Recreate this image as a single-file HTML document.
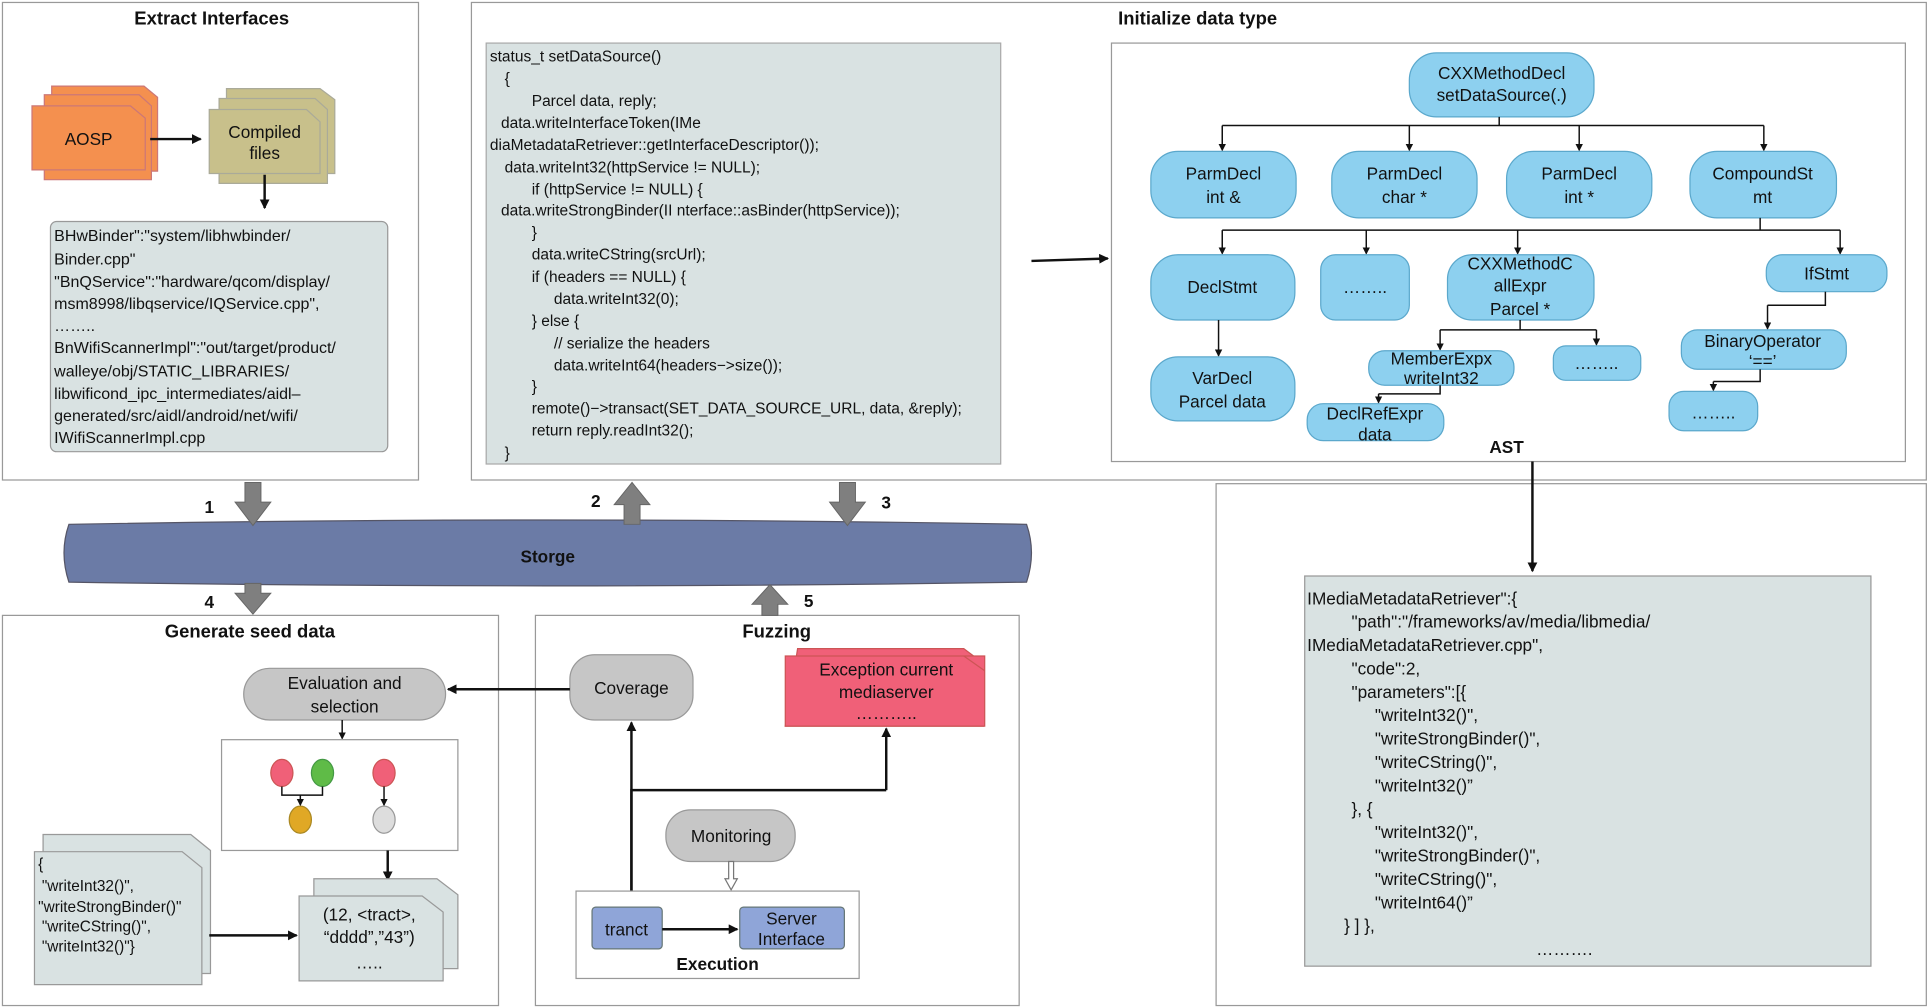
<!DOCTYPE html>
<html><head><meta charset="utf-8"><style>
html,body{margin:0;padding:0;background:#fff;}
svg{display:block;}
text{font-family:"Liberation Sans",Arial,sans-serif;fill:#111;}
.t{font-weight:bold;font-size:15px;text-anchor:middle;}
.c{font-size:12.6px;}
.n{font-size:14px;text-anchor:middle;}
.box{fill:#fff;stroke:#999;stroke-width:1;}
.ast{fill:#8dd0ef;stroke:#5ba8cc;stroke-width:1;}
.ln{stroke:#111;stroke-width:1.2;fill:none;}
.lb{stroke:#111;stroke-width:2;fill:none;}
</style></head><body>
<svg width="1930" height="1008" viewBox="0 0 1568 819" preserveAspectRatio="none" xmlns="http://www.w3.org/2000/svg">
<defs>
<marker id="a" markerWidth="8" markerHeight="8" refX="7" refY="4" orient="auto" markerUnits="userSpaceOnUse"><path d="M0,0 L8,4 L0,8 z" fill="#111"/></marker>
<marker id="as" markerWidth="6" markerHeight="6" refX="5" refY="3" orient="auto" markerUnits="userSpaceOnUse"><path d="M0,0 L6,3 L0,6 z" fill="#111"/></marker>
</defs>

<rect class="box" x="2" y="2" width="338" height="388"/>
<rect class="box" x="383" y="2" width="1182" height="388"/>
<rect class="box" x="988" y="393" width="577" height="424"/>
<rect class="box" x="2" y="500" width="403" height="317"/>
<rect class="box" x="435" y="500" width="393" height="317"/>

<text class="t" x="172" y="20">Extract Interfaces</text>
<text class="t" x="973" y="20">Initialize data type</text>
<text class="t" x="203" y="518">Generate seed data</text>
<text class="t" x="631" y="518">Fuzzing</text>

<g fill="#f4904f" stroke="#c77">
<path d="M42,70 h75 l11,9 v60 h-86 z"/>
<path d="M36,77 h77 l10,9 v60 h-87 z"/>
<path d="M26,86 h80 l12,10 v42 h-92 z"/>
</g>
<text class="n" x="72" y="118">AOSP</text>
<g fill="#c8c08b" stroke="#aa9">
<path d="M184,72 h76 l12,9 v60 h-88 z"/>
<path d="M178,80 h78 l10,9 v60 h-88 z"/>
<path d="M170,89 h79 l11,10 v42 h-90 z"/>
</g>
<text class="n" x="215" y="112">Compiled</text>
<text class="n" x="215" y="129">files</text>
<line class="lb" x1="122" y1="113" x2="163" y2="113" marker-end="url(#a)"/>
<line class="lb" x1="215" y1="142" x2="215" y2="169" marker-end="url(#a)"/>

<rect x="41" y="180" width="274" height="187" rx="5" fill="#d9e2e2" stroke="#999"/>
<g>
<text x="44" y="196" style="font-size:13px">BHwBinder":"system/libhwbinder/</text>
<text x="44" y="215" style="font-size:13px">Binder.cpp"</text>
<text x="44" y="233" style="font-size:13px">"BnQService":"hardware/qcom/display/</text>
<text x="44" y="251" style="font-size:13px">msm8998/libqservice/IQService.cpp",</text>
<text x="44" y="269" style="font-size:13px">……..</text>
<text x="44" y="287" style="font-size:13px">BnWifiScannerImpl":"out/target/product/</text>
<text x="44" y="306" style="font-size:13px">walleye/obj/STATIC_LIBRARIES/</text>
<text x="44" y="324" style="font-size:13px">libwificond_ipc_intermediates/aidl–</text>
<text x="44" y="342" style="font-size:13px">generated/src/aidl/android/net/wifi/</text>
<text x="44" y="360" style="font-size:13px">IWifiScannerImpl.cpp</text>
</g>

<rect x="395" y="35" width="418" height="342" fill="#d9e2e2" stroke="#aaa"/>
<g>
<text class="c" x="398" y="50">status_t setDataSource()</text>
<text class="c" x="410" y="68">{</text>
<text class="c" x="432" y="86">Parcel data, reply;</text>
<text class="c" x="407" y="104">data.writeInterfaceToken(IMe</text>
<text class="c" x="398" y="122">diaMetadataRetriever::getInterfaceDescriptor());</text>
<text class="c" x="410" y="140">data.writeInt32(httpService != NULL);</text>
<text class="c" x="432" y="158">if (httpService != NULL) {</text>
<text class="c" x="407" y="175">data.writeStrongBinder(II nterface::asBinder(httpService));</text>
<text class="c" x="432" y="193">}</text>
<text class="c" x="432" y="211">data.writeCString(srcUrl);</text>
<text class="c" x="432" y="229">if (headers == NULL) {</text>
<text class="c" x="450" y="247">data.writeInt32(0);</text>
<text class="c" x="432" y="265">} else {</text>
<text class="c" x="450" y="283">// serialize the headers</text>
<text class="c" x="450" y="301">data.writeInt64(headers−&gt;size());</text>
<text class="c" x="432" y="318">}</text>
<text class="c" x="432" y="336">remote()−&gt;transact(SET_DATA_SOURCE_URL, data, &amp;reply);</text>
<text class="c" x="432" y="354">return reply.readInt32();</text>
<text class="c" x="410" y="372">}</text>
</g>
<line class="lb" x1="838" y1="212" x2="900" y2="210" marker-end="url(#a)"/>

<rect class="box" x="903" y="35" width="645" height="340"/>
<text class="t" x="1224" y="368" style="font-size:14px">AST</text>
<rect class="ast" x="1145" y="43" width="150" height="52" rx="22"/>
<text class="n" x="1220" y="64">CXXMethodDecl</text><text class="n" x="1220" y="82">setDataSource(.)</text>
<path class="ln" d="M1218,95 V102 M993,102 H1433"/>
<line class="ln" x1="993" y1="102" x2="993" y2="122" marker-end="url(#as)"/>
<line class="ln" x1="1145" y1="102" x2="1145" y2="122" marker-end="url(#as)"/>
<line class="ln" x1="1283" y1="102" x2="1283" y2="122" marker-end="url(#as)"/>
<line class="ln" x1="1433" y1="102" x2="1433" y2="122" marker-end="url(#as)"/>
<rect class="ast" x="935" y="123" width="118" height="54" rx="22"/>
<text class="n" x="994" y="146">ParmDecl</text><text class="n" x="994" y="165">int &amp;</text>
<rect class="ast" x="1082" y="123" width="118" height="54" rx="22"/>
<text class="n" x="1141" y="146">ParmDecl</text><text class="n" x="1141" y="165">char *</text>
<rect class="ast" x="1224" y="123" width="118" height="54" rx="22"/>
<text class="n" x="1283" y="146">ParmDecl</text><text class="n" x="1283" y="165">int *</text>
<rect class="ast" x="1373" y="123" width="119" height="54" rx="22"/>
<text class="n" x="1432" y="146">CompoundSt</text><text class="n" x="1432" y="165">mt</text>
<path class="ln" d="M1430,177 V187 M993,187 H1495"/>
<line class="ln" x1="993" y1="187" x2="993" y2="206" marker-end="url(#as)"/>
<line class="ln" x1="1110" y1="187" x2="1110" y2="206" marker-end="url(#as)"/>
<line class="ln" x1="1233" y1="187" x2="1233" y2="206" marker-end="url(#as)"/>
<line class="ln" x1="1495" y1="187" x2="1495" y2="206" marker-end="url(#as)"/>
<rect class="ast" x="935" y="207" width="117" height="53" rx="22"/>
<text class="n" x="993" y="238">DeclStmt</text>
<rect class="ast" x="1073" y="207" width="72" height="53" rx="12"/>
<text class="n" x="1109" y="238">……..</text>
<rect class="ast" x="1176" y="207" width="119" height="53" rx="20"/>
<text class="n" x="1235" y="219">CXXMethodC</text><text class="n" x="1235" y="237">allExpr</text><text class="n" x="1235" y="256">Parcel *</text>
<rect class="ast" x="1435" y="207" width="98" height="30" rx="13"/>
<text class="n" x="1484" y="227">IfStmt</text>
<line class="ln" x1="990" y1="260" x2="990" y2="289" marker-end="url(#as)"/>
<rect class="ast" x="935" y="290" width="117" height="52" rx="22"/>
<text class="n" x="993" y="312">VarDecl</text><text class="n" x="993" y="331">Parcel data</text>
<path class="ln" d="M1235,260 V268 M1170,268 H1297"/>
<line class="ln" x1="1170" y1="268" x2="1170" y2="284" marker-end="url(#as)"/>
<line class="ln" x1="1297" y1="268" x2="1297" y2="280" marker-end="url(#as)"/>
<rect class="ast" x="1112" y="285" width="118" height="28" rx="13"/>
<text class="n" x="1171" y="296">MemberExpx</text><text class="n" x="1171" y="312">writeInt32</text>
<rect class="ast" x="1262" y="281" width="71" height="28" rx="10"/>
<text class="n" x="1297" y="300">……..</text>
<path class="ln" d="M1170,313 V320 H1120"/>
<line class="ln" x1="1120" y1="320" x2="1120" y2="327" marker-end="url(#as)"/>
<rect class="ast" x="1062" y="328" width="111" height="30" rx="13"/>
<text class="n" x="1117" y="341">DeclRefExpr</text><text class="n" x="1117" y="358">data</text>
<path class="ln" d="M1483,237 V248 H1436"/>
<line class="ln" x1="1436" y1="248" x2="1436" y2="267" marker-end="url(#as)"/>
<rect class="ast" x="1366" y="268" width="134" height="32" rx="13"/>
<text class="n" x="1432" y="282">BinaryOperator</text><text class="n" x="1432" y="298">‘==’</text>
<path class="ln" d="M1430,300 V310 H1392"/>
<line class="ln" x1="1392" y1="310" x2="1392" y2="317" marker-end="url(#as)"/>
<rect class="ast" x="1356" y="318" width="72" height="32" rx="12"/>
<text class="n" x="1392" y="340">……..</text>
<line class="lb" x1="1245" y1="375" x2="1245" y2="464" marker-end="url(#a)"/>

<rect x="1060" y="468" width="460" height="317" fill="#d9e2e2" stroke="#999"/>
<g>
<text x="1062" y="491" style="font-size:14px">IMediaMetadataRetriever":{</text>
<text x="1098" y="510" style="font-size:14px">"path":"/frameworks/av/media/libmedia/</text>
<text x="1062" y="529" style="font-size:14px">IMediaMetadataRetriever.cpp",</text>
<text x="1098" y="548" style="font-size:14px">"code":2,</text>
<text x="1098" y="567" style="font-size:14px">"parameters":[{</text>
<text x="1117" y="586" style="font-size:14px">"writeInt32()",</text>
<text x="1117" y="605" style="font-size:14px">"writeStrongBinder()",</text>
<text x="1117" y="624" style="font-size:14px">"writeCString()",</text>
<text x="1117" y="643" style="font-size:14px">"writeInt32()”</text>
<text x="1098" y="662" style="font-size:14px">}, {</text>
<text x="1117" y="681" style="font-size:14px">"writeInt32()",</text>
<text x="1117" y="700" style="font-size:14px">"writeStrongBinder()",</text>
<text x="1117" y="719" style="font-size:14px">"writeCString()",</text>
<text x="1117" y="738" style="font-size:14px">"writeInt64()”</text>
<text x="1092" y="757" style="font-size:14px">}    ] },</text>
<text x="1248" y="776" style="font-size:14px">……….</text>
</g>

<path d="M56,426 Q445,419 834,426 Q842,449 834,473 Q445,479 56,473 Q48,449 56,426 z" fill="#6b7ba6" stroke="#556"/>
<text class="t" x="445" y="457" style="font-size:14px">Storge</text>

<g fill="#7f7f7f" stroke="#666" stroke-width="0.8">
<path d="M199,392 h13 v16 h8 l-14.5,19 l-14.5,-19 h8 z"/>
<path d="M507,426 h13 v-16 h8 l-14.5,-18 l-14.5,18 h8 z"/>
<path d="M682,392 h13 v16 h8 l-14.5,19 l-14.5,-19 h8 z"/>
<path d="M199,474 h13 v8 h8 l-14.5,17 l-14.5,-17 h8 z"/>
<path d="M619,500 h13 v-9 h8 l-14.5,-16 l-14.5,16 h8 z"/>
</g>
<text class="t" x="170" y="417" style="font-size:14px">1</text>
<text class="t" x="484" y="412" style="font-size:14px">2</text>
<text class="t" x="720" y="413" style="font-size:14px">3</text>
<text class="t" x="170" y="494" style="font-size:14px">4</text>
<text class="t" x="657" y="493" style="font-size:14px">5</text>

<rect x="198" y="543" width="164" height="42" rx="21" fill="#c6c6c6" stroke="#999"/>
<text class="n" x="280" y="560">Evaluation and</text><text class="n" x="280" y="579">selection</text>
<line class="ln" x1="278" y1="585" x2="278" y2="600" marker-end="url(#as)"/>
<rect x="180" y="601" width="192" height="90" fill="#fff" stroke="#999"/>
<ellipse cx="229" cy="628" rx="9" ry="11" fill="#f06078" stroke="#c55"/>
<ellipse cx="262" cy="628" rx="9" ry="11" fill="#5fbb47" stroke="#494"/>
<ellipse cx="312" cy="628" rx="9" ry="11" fill="#f06078" stroke="#c55"/>
<ellipse cx="244" cy="666" rx="9" ry="11" fill="#e0a825" stroke="#a82"/>
<ellipse cx="312" cy="666" rx="9" ry="11" fill="#ddd" stroke="#999"/>
<path class="ln" d="M229,639 V646 H262 V639"/>
<line class="ln" x1="244" y1="646" x2="244" y2="654" marker-end="url(#as)"/>
<line class="ln" x1="312" y1="639" x2="312" y2="654" marker-end="url(#as)"/>
<line class="lb" x1="315" y1="691" x2="315" y2="715" marker-end="url(#a)"/>
<g fill="#d9e2e2" stroke="#999">
<path d="M35,678 h120 l16,13 v100 h-136 z"/>
<path d="M28,692 h120 l16,13 v95 h-136 z"/>
<path d="M255,714 h100 l17,13 v60 h-117 z"/>
<path d="M243,728 h100 l17,13 v56 h-117 z"/>
</g>
<text x="31" y="706" style="font-size:12.5px">{</text>
<text x="34" y="724" style="font-size:12.5px">"writeInt32()",</text>
<text x="31" y="741" style="font-size:12.5px">"writeStrongBinder()"</text>
<text x="34" y="757" style="font-size:12.5px">"writeCString()",</text>
<text x="34" y="773" style="font-size:12.5px">"writeInt32()"}</text>
<line class="lb" x1="170" y1="760" x2="241" y2="760" marker-end="url(#a)"/>
<text class="n" x="300" y="748">(12,  &lt;tract&gt;,</text>
<text class="n" x="300" y="766">“dddd”,”43”)</text>
<text class="n" x="300" y="787">…..</text>

<rect x="463" y="532" width="100" height="53" rx="20" fill="#c6c6c6" stroke="#999"/>
<text class="n" x="513" y="564">Coverage</text>
<line class="lb" x1="463" y1="560" x2="364" y2="560" marker-end="url(#a)"/>
<path d="M648,527 h135 l16,12 v51 h-161 z" fill="#f06078" stroke="#c55"/>
<rect x="638" y="533" width="162" height="57" fill="#f06078" stroke="#c55"/>
<path d="M783,533 l17,12" stroke="#c55" fill="none"/>
<text class="n" x="720" y="549">Exception  current</text>
<text class="n" x="720" y="567">mediaserver</text>
<text class="n" x="720" y="584">………..</text>
<path class="lb" d="M513,724 V642 H720"/>
<line class="lb" x1="513" y1="724" x2="513" y2="587" marker-end="url(#a)"/>
<line class="lb" x1="720" y1="642" x2="720" y2="592" marker-end="url(#a)"/>
<rect x="541" y="658" width="105" height="42" rx="20" fill="#c6c6c6" stroke="#999"/>
<text class="n" x="594" y="684">Monitoring</text>
<path d="M592,700 h4 v14 h3 l-5,9 l-5,-9 h3 z" fill="#fff" stroke="#777"/>
<rect x="468" y="724" width="230" height="71" fill="#fff" stroke="#999"/>
<rect x="481" y="737" width="57" height="34" rx="3" fill="#8fa5d8" stroke="#677"/>
<text class="n" x="509" y="760">tranct</text>
<rect x="601" y="737" width="85" height="34" rx="3" fill="#8fa5d8" stroke="#677"/>
<text class="n" x="643" y="751">Server</text><text class="n" x="643" y="768">Interface</text>
<line class="lb" x1="538" y1="755" x2="599" y2="755" marker-end="url(#a)"/>
<text class="t" x="583" y="788" style="font-size:14px">Execution</text>
</svg>
</body></html>
